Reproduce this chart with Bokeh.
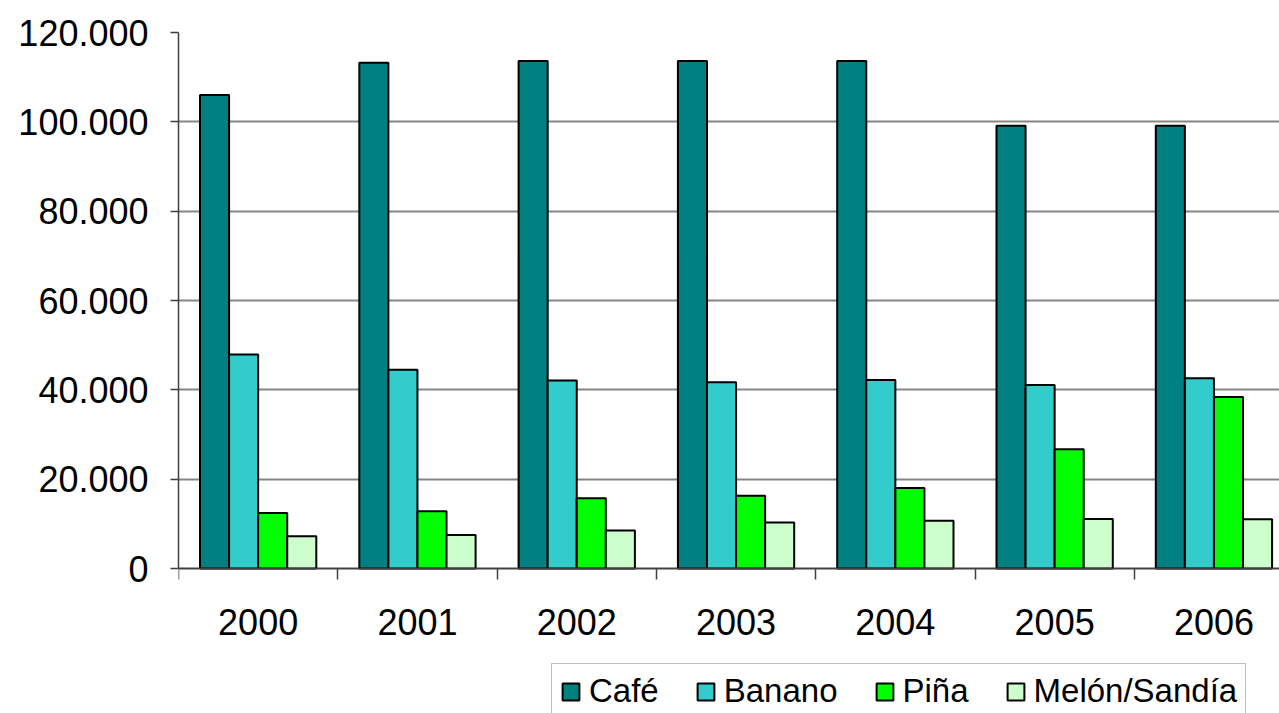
from bokeh.plotting import figure
from bokeh.models import FixedTicker, Legend, LegendItem, Range1d
from bokeh.embed import file_html
from bokeh.resources import INLINE
import numpy as np

# ---- data ----
years = ["2000", "2001", "2002", "2003", "2004", "2005", "2006"]
cafe = [106000, 113200, 113600, 113600, 113600, 99100, 99100]
banano = [47900, 44500, 42100, 41700, 42200, 41100, 42600]
pina = [12400, 12800, 15700, 16300, 18000, 26700, 38400]
melon = [7200, 7500, 8500, 10300, 10700, 11100, 11000]
series_names = ["Café", "Banano", "Piña", "Melón/Sandía"]
series_colors = ["#008080", "#33CCCC", "#00FF00", "#CCFFCC"]
y_ticks = [0, 20000, 40000, 60000, 80000, 100000, 120000]
y_tick_labels = ["0", "20.000", "40.000", "60.000", "80.000", "100.000", "120.000"]

FONT = "Liberation Sans"
W, H = 1279, 713
LEFT, TOP = 178, 32
AXIS_Y = 568           # page y of the value 0
frame_w = W - LEFT
cat_w = 159.3
n = len(years)
y_max = 120000
px_per_unit = (AXIS_Y - TOP) / y_max
y_min = -(H - AXIS_Y) / px_per_unit

p = figure(width=W, height=H, output_backend="svg", toolbar_location=None,
           x_range=Range1d(0, frame_w / cat_w), y_range=Range1d(y_min, y_max),
           min_border_left=LEFT, min_border_right=0, min_border_top=TOP,
           min_border_bottom=0)
p.outline_line_color = None
p.background_fill_color = "white"
p.border_fill_color = "white"

bw = 0.1825
centers = np.arange(n) + 0.5
renderers = []
for k, (vals, col) in enumerate(zip([cafe, banano, pina, melon], series_colors)):
    r = p.vbar(x=centers + (k - 1.5) * bw, top=vals, width=bw, bottom=0,
               fill_color=col, line_color="black", line_width=2)
    renderers.append(r)

# y axis
p.yaxis.ticker = FixedTicker(ticks=y_ticks, minor_ticks=[])
p.yaxis.bounds = (0, y_max)
p.yaxis.major_label_overrides = {t: l for t, l in zip(y_ticks, y_tick_labels)}
p.yaxis.major_label_text_font = FONT
p.yaxis.major_label_text_font_size = "36px"
p.yaxis.major_label_text_color = "black"
p.yaxis.major_tick_out = 8
p.yaxis.major_tick_in = 0
p.yaxis.major_label_standoff = 22
p.yaxis.axis_line_color = "#404040"
p.yaxis.axis_line_width = 1.5
p.yaxis.major_tick_line_color = "#404040"
p.yaxis.major_tick_line_width = 1.5

# x axis at value 0: labels at centers, tick marks at boundaries (minor ticks)
p.xaxis.fixed_location = 0
p.xaxis.ticker = FixedTicker(ticks=list(centers), minor_ticks=list(range(n + 1)))
p.xaxis.major_label_overrides = {float(c): y for c, y in zip(centers, years)}
p.xaxis.major_label_text_font = FONT
p.xaxis.major_label_text_font_size = "36px"
p.xaxis.major_label_text_color = "black"
p.xaxis.major_tick_out = 0
p.xaxis.major_tick_in = 0
p.xaxis.minor_tick_out = 11
p.xaxis.minor_tick_in = 0
p.xaxis.minor_tick_line_color = "#404040"
p.xaxis.minor_tick_line_width = 1.5
p.xaxis.major_label_standoff = 29
p.xaxis.axis_line_color = "#404040"
p.xaxis.axis_line_width = 1.5

p.xgrid.visible = False
p.ygrid.ticker = FixedTicker(ticks=y_ticks)
p.ygrid.grid_line_color = "#858585"
p.ygrid.grid_line_width = 2

legend = Legend(items=[LegendItem(label=nm, renderers=[r]) for nm, r in zip(series_names, renderers)],
                orientation="horizontal", location=(373, -6))
legend.label_text_font = FONT
legend.label_text_font_size = "33px"
legend.label_text_color = "black"
legend.glyph_width = 21
legend.glyph_height = 21
legend.label_standoff = 8
legend.spacing = 36
legend.padding = 8
legend.margin = 0
legend.border_line_color = "#808080"
legend.border_line_width = 1.5
legend.background_fill_color = "white"
legend.background_fill_alpha = 1.0
p.add_layout(legend, "center")

open("out.html", "w").write(file_html(p, INLINE))
